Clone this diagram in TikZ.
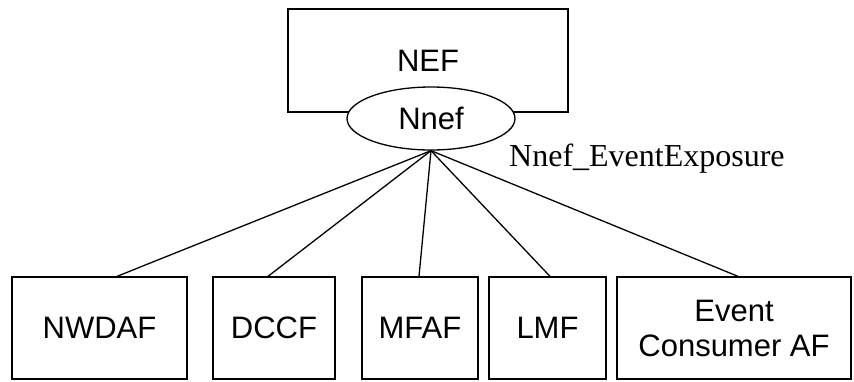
\documentclass[tikz,border=0pt]{standalone}
\usepackage{fontspec}
\setmainfont{Liberation Sans}
\newfontfamily\timesfont{Liberation Serif}
\usetikzlibrary{shapes.geometric}

\begin{document}
\begin{tikzpicture}[x=1pt, y=-1pt]
	\tikzset{boite/.style={rectangle, draw=black, line width=1.3pt, inner sep=0pt, align=center, font=\fontsize{31}{35}\selectfont}, lien/.style={line width=1.3pt}};

	\useasboundingbox (0,0) rectangle (854,381);

	\node[boite, minimum width=280pt, minimum height=103pt] (nef) at (428, 60.5) {NEF};
	\node[boite, ellipse, fill=white, minimum width=168pt, minimum height=63pt] (nnef) at (431, 118.5) {Nnef};

	\node[boite, minimum width=175pt, minimum height=102pt] (nwdaf) at ( 99.5, 328) {NWDAF};
	\node[boite, minimum width=122pt, minimum height=102pt] (dccf)  at (274,   328) {DCCF};
	\node[boite, minimum width=116pt, minimum height=102pt] (mfaf)  at (420,   328) {MFAF};
	\node[boite, minimum width=117pt, minimum height=102pt] (lmf)   at (547.5, 328) {LMF};
	\node[boite, minimum width=234pt, minimum height=102pt] (event) at (734,   328) {Event\\Consumer AF};

	\node[anchor=base west, inner sep=0pt, font=\timesfont\fontsize{32}{38}\selectfont] (api) at (509, 166) {Nnef\_EventExposure};

	\draw[lien] (nnef.south) -- ([xshift=17.5pt]nwdaf.north);
	\draw[lien] (nnef.south) -- ([xshift=-6pt]dccf.north);
	\draw[lien] (nnef.south) -- ([xshift=-1pt]mfaf.north);
	\draw[lien] (nnef.south) -- ([xshift=2.5pt]lmf.north);
	\draw[lien] (nnef.south) -- ([xshift=4pt]event.north);

\end{tikzpicture}
\end{document}
